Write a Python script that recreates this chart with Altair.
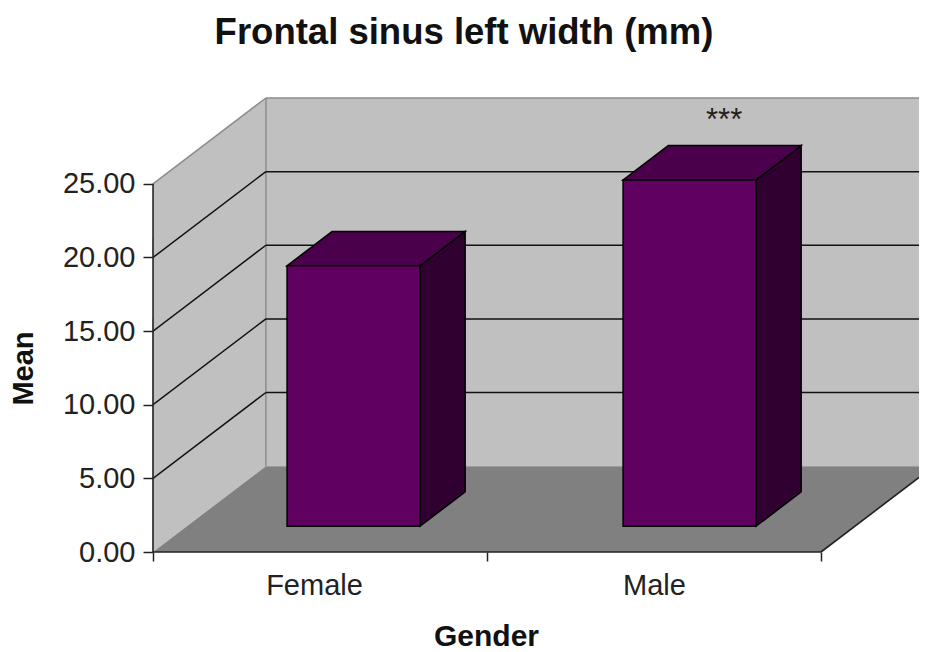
import altair as alt
import pandas as pd

genders = ["Female", "Male"]
means = [17.69, 23.52]
y_ticks = [0, 5, 10, 15, 20, 25]
grid_values = [5, 10, 15, 20]
significance = ["", "***"]

# oblique projection of the 3-D box (in axis units)
DX = 0.338   # x shift for full depth
DY = 5.83    # y shift for full depth
WIDTH = 766
XMAX = WIDTH / 334
YMAX = 30.83
B0, B1 = 0.3, 0.7  # bar extent along depth
STEP, BAR_W = 1.006, 0.398

xs = alt.Scale(domain=[0, XMAX], nice=False, zero=False)
ys = alt.Scale(domain=[0, YMAX], nice=False, zero=False)
FONT = "Liberation Sans"

x_axis = alt.Axis(
    values=[0, 0.482, 1, 1.5, 2],
    labelExpr="abs(datum.value-0.482)<0.01?'" + genders[0] + "':abs(datum.value-1.5)<0.01?'" + genders[1] + "':''",
    tickOpacity={"condition": {"test": "datum.value==0||datum.value==1||datum.value==2", "value": 1}, "value": 0},
    tickSize=9, tickColor="#222222", tickWidth=1.5,
    domain=False,
    labelFont=FONT, labelFontSize=29, labelColor="#222222", labelPadding=10, labelFlush=False,
    labelOverlap=False, grid=False, title="Gender", titleFont=FONT, titleFontSize=30, titleFontWeight="bold",
    titleColor="#111111", titleX=333, titleY=93, titleAnchor="middle", titleBaseline="alphabetic", zindex=1,
)
y_axis = alt.Axis(
    values=y_ticks, format=".2f", domain=False, grid=False,
    tickSize=10, tickColor="#222222", tickWidth=1.5,
    labelFont=FONT, labelFontSize=29, labelColor="#222222", labelPadding=8,
    title="Mean", titleFont=FONT, titleFontSize=29, titleFontWeight="bold", titleColor="#111111",
    titleX=-121, titleY=270, titleAnchor="middle", titleBaseline="alphabetic", zindex=1,
)


def X():
    return alt.X("x:Q", scale=xs, axis=x_axis)


def Y():
    return alt.Y("y:Q", scale=ys, axis=y_axis)


def vface(rows, fill, stroke, sw=1.5):
    """parallelogram with vertical sides: rows of x, y, y2"""
    return alt.Chart(pd.DataFrame(rows, columns=["x", "y", "y2"])).mark_area(
        fill=fill, stroke=stroke, strokeWidth=sw, clip=True, interpolate="linear"
    ).encode(x=X(), y=Y(), y2="y2:Q")


def hface(rows, fill, stroke, sw=1.5):
    """parallelogram with horizontal sides: rows of y, x, x2"""
    return alt.Chart(pd.DataFrame(rows, columns=["y", "x", "x2"])).mark_area(
        orient="horizontal", fill=fill, stroke=stroke, strokeWidth=sw, clip=True,
        interpolate="linear"
    ).encode(y=Y(), x=X(), x2="x2:Q")


def seg(rows, color, sw=1.5, clip=True):
    return alt.Chart(pd.DataFrame(rows, columns=["x", "y", "g"])).mark_line(
        color=color, strokeWidth=sw, clip=clip
    ).encode(x=X(), y=Y(), detail="g:N", order="o:Q").transform_calculate(o="datum.x")


TOP = y_ticks[-1]
left_wall = vface([[0, 0, TOP], [DX, DY, TOP + DY]], "#C0C0C0", "#C0C0C0", 0)
back_wall = vface([[DX, DY, TOP + DY], [XMAX + 1, DY, TOP + DY]], "#C0C0C0", "#C0C0C0", 0)
floor = hface([[0, 0, 2], [DY, DX, 2 + DX]], "#808080", "#808080", 0)

wall_edges = seg(
    [[0, TOP, "a"], [DX, TOP + DY, "a"], [DX, TOP + DY, "b"], [XMAX + 1, TOP + DY, "b"],
     [DX, DY, "c"], [DX + 0.0001, TOP + DY, "c"]],
    "#8C8C8C", 1.5, clip=False,
)
grid_rows = []
for v in grid_values:
    grid_rows += [[0, v, f"d{v}"], [DX, v + DY, f"d{v}"], [DX, v + DY, f"h{v}"], [XMAX, v + DY, f"h{v}"]]
grid = seg(grid_rows, "#111111", 1.5)
edges = seg(
    [[0, 0, "l"], [0.0001, TOP, "l"], [0, 0, "b"], [2, 0, "b"], [2, 0, "r"], [XMAX, (XMAX - 2) / DX * DY, "r"]],
    "#222222", 1.6, clip=False,
)

bars = []
for i, v in enumerate(means):
    x0 = i * STEP + B0
    x1 = x0 + BAR_W
    dx0, dx1 = B0 * DX, B1 * DX
    dy0, dy1 = B0 * DY, B1 * DY
    bars.append(vface([[x1 + dx0, dy0, v + dy0], [x1 + dx1, dy1, v + dy1]], "#300030", "#000000"))
    bars.append(hface([[v + dy0, x0 + dx0, x1 + dx0], [v + dy1, x0 + dx1, x1 + dx1]], "#4B004B", "#000000"))
    bars.append(vface([[x0 + dx0, dy0, v + dy0], [x1 + dx0, dy0, v + dy0]], "#600060", "#000000"))

stars = alt.Chart(pd.DataFrame({
    "x": [1.71], "y": [means[1] + 5.75], "t": [significance[1]]
})).mark_text(font=FONT, fontSize=31, color="#222222", baseline="middle").encode(x=X(), y=Y(), text="t:N")

chart = alt.layer(left_wall, back_wall, floor, wall_edges, grid, edges, *bars, stars).properties(
    width=WIDTH,
    height=454,
    padding={"left": 145, "top": 90, "right": 0, "bottom": 100},
    autosize=alt.AutoSizeParams(type="none"),
    title=alt.TitleParams(
        "Frontal sinus left width (mm)", anchor="middle", dx=-72, offset=44,
        font=FONT, fontSize=36.5, fontWeight="bold", color="#111111",
    ),
).configure_view(stroke=None)

chart.save("out.html", embed_options={"renderer": "svg", "actions": False})
